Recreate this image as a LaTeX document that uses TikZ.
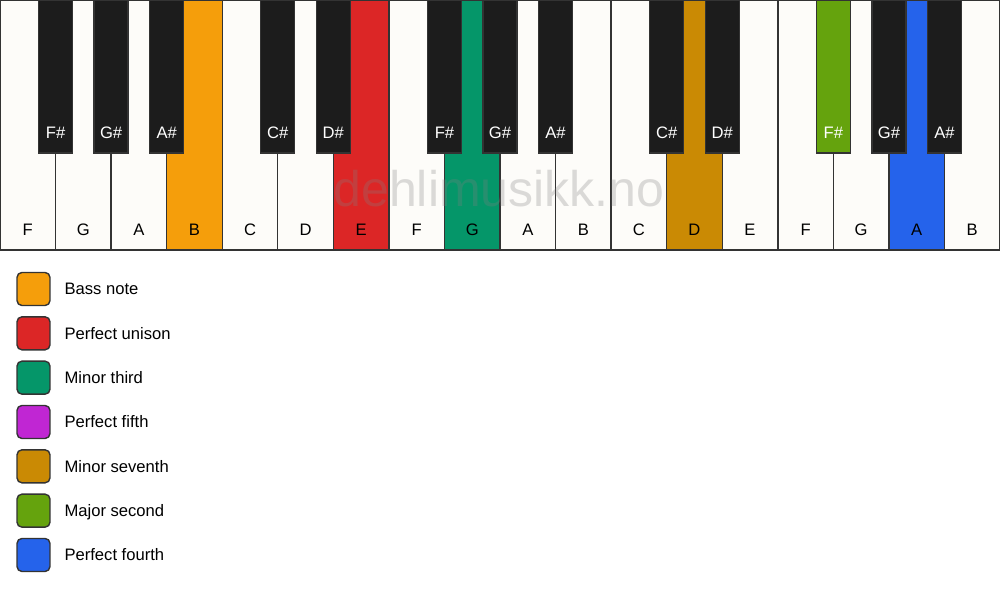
\documentclass[tikz,border=0pt]{standalone}
\usepackage{fontspec}
\setmainfont{Liberation Sans}
\usetikzlibrary{positioning}
\definecolor{keywhite}{HTML}{FDFCF9}
\definecolor{keyblack}{HTML}{1C1C1C}
\definecolor{keyline}{HTML}{333333}
\definecolor{bassC}{HTML}{F59E0B}
\definecolor{unisonC}{HTML}{DC2626}
\definecolor{thirdC}{HTML}{059669}
\definecolor{fifthC}{HTML}{C026D3}
\definecolor{seventhC}{HTML}{CA8A04}
\definecolor{secondC}{HTML}{65A30D}
\definecolor{fourthC}{HTML}{2563EB}
\tikzset{
  whitekey/.style={draw=keyline,line width=0.8pt,inner sep=0pt,outer sep=0pt,minimum width=1.1111cm,minimum height=5cm},
  blackkey/.style={draw=keyline,line width=0.8pt,inner sep=0pt,outer sep=0pt,minimum width=0.68cm,minimum height=3.06cm},
  legendbox/.style={draw=keyline,line width=0.8pt,rounded corners=2.8pt,minimum size=0.66cm,inner sep=0pt},
  keytext/.style={inner sep=0pt,text height=6.8pt,text depth=0pt},
}
\begin{document}
\begin{tikzpicture}[x=0.02cm,y=-0.02cm,font=\fontsize{9.45}{11}\selectfont]
        \useasboundingbox (0,0) rectangle (1000,594);
        \fill[white] (0,0) rectangle (1000,594);
        % white keys
        \foreach \n/\c [count=\i from 0] in {F/keywhite,G/keywhite,A/keywhite,B/bassC,C/keywhite,D/keywhite,E/unisonC,F/keywhite,G/thirdC,A/keywhite,B/keywhite,C/keywhite,D/seventhC,E/keywhite,F/keywhite,G/keywhite,A/fourthC,B/keywhite}
        {
        \node[whitekey,fill=\c](w\i)at(\i*55.556+27.778,125){};
        \node[keytext](wl\i)at(\i*55.556+27.778,230){\n};
        }
        \node[text=gray,opacity=0.28,font=\fontsize{28.5}{30}\selectfont,anchor=base](mark)at(499,207){dehlimusikk.no};
        % black keys
        \foreach \i/\n/\c in {1/F/keyblack,2/G/keyblack,3/A/keyblack,5/C/keyblack,6/D/keyblack,8/F/keyblack,9/G/keyblack,10/A/keyblack,12/C/keyblack,13/D/keyblack,15/F/secondC,16/G/keyblack,17/A/keyblack}
        {
        \node[blackkey,fill=\c](b\i)at(\i*55.556,76.5){};
        \node[keytext,text=white](bl\i)at(\i*55.556,132.5){\n\#};
        }
        % legend
        \foreach \c/\t [count=\i from 0] in {bassC/Bass note,unisonC/Perfect unison,thirdC/Minor third,fifthC/Perfect fifth,seventhC/Minor seventh,secondC/Major second,fourthC/Perfect fourth}
        {
        \node[legendbox,fill=\c](box\i)at(33.5,289+44.33*\i){};
        \node[keytext,right=0.27cm of box\i](txt\i){\t};
        }
\end{tikzpicture}
\end{document}
